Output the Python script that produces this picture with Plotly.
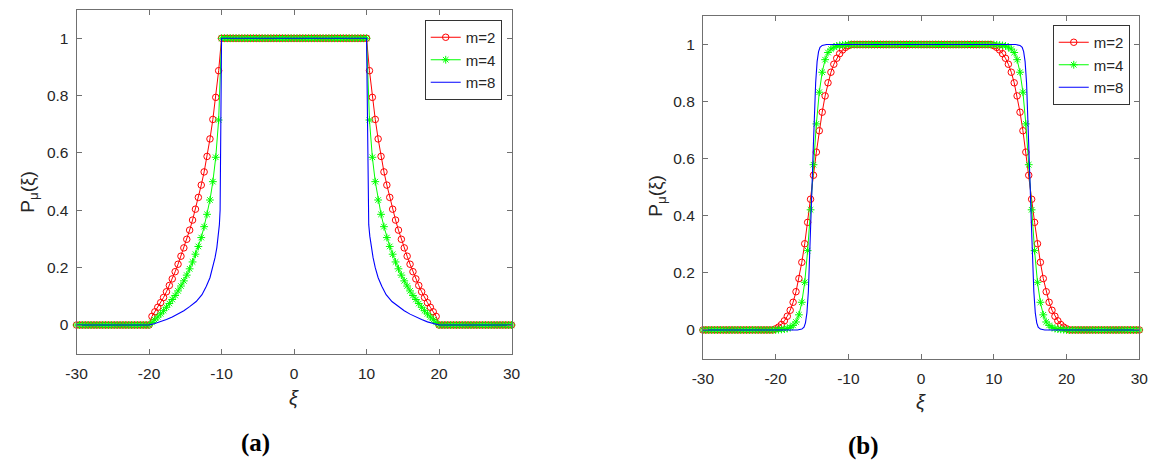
import plotly.graph_objects as go

# ---------------- data ----------------
# common sample grid of xi (spacing 0.4)
XI = [
    -30.0, -29.6, -29.2, -28.8, -28.4, -28.0, -27.6, -27.2, -26.8, -26.4, -26.0, -25.6, -25.2,
    -24.8, -24.4, -24.0, -23.6, -23.2, -22.8, -22.4, -22.0, -21.6, -21.2, -20.8, -20.4, -20.0,
    -19.6, -19.2, -18.8, -18.4, -18.0, -17.6, -17.2, -16.8, -16.4, -16.0, -15.6, -15.2,
    -14.8, -14.4, -14.0, -13.6, -13.2, -12.8, -12.4, -12.0, -11.6, -11.2, -10.8, -10.4,
    -10.0, -9.6, -9.2, -8.8, -8.4, -8.0, -7.6, -7.2, -6.8, -6.4, -6.0, -5.6, -5.2, -4.8, -4.4,
    -4.0, -3.6, -3.2, -2.8, -2.4, -2.0, -1.6, -1.2, -0.8, -0.4, 0.0, 0.4, 0.8, 1.2, 1.6, 2.0,
    2.4, 2.8, 3.2, 3.6, 4.0, 4.4, 4.8, 5.2, 5.6, 6.0, 6.4, 6.8, 7.2, 7.6, 8.0, 8.4, 8.8, 9.2,
    9.6, 10.0,
    10.4, 10.8, 11.2, 11.6, 12.0, 12.4, 12.8, 13.2, 13.6, 14.0, 14.4, 14.8,
    15.2, 15.6, 16.0, 16.4, 16.8, 17.2, 17.6, 18.0, 18.4, 18.8, 19.2, 19.6,
    20.0, 20.4, 20.8, 21.2, 21.6, 22.0, 22.4, 22.8, 23.2, 23.6, 24.0, 24.4, 24.8,
    25.2, 25.6, 26.0, 26.4, 26.8, 27.2, 27.6, 28.0, 28.4, 28.8, 29.2, 29.6, 30.0,
]

# panel (a)
A_M2 = [
    0, 0, 0, 0, 0, 0, 0, 0, 0, 0, 0, 0, 0, 0, 0, 0, 0, 0, 0, 0, 0, 0, 0, 0, 0, 0,
    0.030, 0.046, 0.062, 0.078, 0.096, 0.116, 0.138, 0.161, 0.186, 0.212, 0.240, 0.269,
    0.299, 0.331, 0.366, 0.404, 0.445, 0.488, 0.534, 0.588, 0.649, 0.717, 0.794, 0.887,
    1, 1, 1, 1, 1, 1, 1, 1, 1, 1, 1, 1, 1, 1, 1, 1, 1, 1, 1, 1, 1, 1, 1, 1, 1,
    1, 1, 1, 1, 1, 1, 1, 1, 1, 1, 1, 1, 1, 1, 1, 1, 1, 1, 1, 1, 1, 1, 1, 1, 1, 1,
    0.887, 0.794, 0.717, 0.649, 0.588, 0.534, 0.488, 0.445, 0.404, 0.366, 0.331, 0.299,
    0.269, 0.240, 0.212, 0.186, 0.161, 0.138, 0.116, 0.096, 0.078, 0.062, 0.046, 0.030,
    0, 0, 0, 0, 0, 0, 0, 0, 0, 0, 0, 0, 0, 0, 0, 0, 0, 0, 0, 0, 0, 0, 0, 0, 0, 0,
]
A_M4 = [
    0, 0, 0, 0, 0, 0, 0, 0, 0, 0, 0, 0, 0, 0, 0, 0, 0, 0, 0, 0, 0, 0, 0, 0, 0, 0,
    0.009, 0.018, 0.028, 0.039, 0.050, 0.062, 0.075, 0.089, 0.103, 0.119, 0.136, 0.154,
    0.174, 0.196, 0.220, 0.247, 0.274, 0.305, 0.343, 0.386, 0.436, 0.500, 0.585, 0.715,
    1, 1, 1, 1, 1, 1, 1, 1, 1, 1, 1, 1, 1, 1, 1, 1, 1, 1, 1, 1, 1, 1, 1, 1, 1,
    1, 1, 1, 1, 1, 1, 1, 1, 1, 1, 1, 1, 1, 1, 1, 1, 1, 1, 1, 1, 1, 1, 1, 1, 1, 1,
    0.715, 0.585, 0.500, 0.436, 0.386, 0.343, 0.305, 0.274, 0.247, 0.220, 0.196, 0.174,
    0.154, 0.136, 0.119, 0.103, 0.089, 0.075, 0.062, 0.050, 0.039, 0.028, 0.018, 0.009,
    0, 0, 0, 0, 0, 0, 0, 0, 0, 0, 0, 0, 0, 0, 0, 0, 0, 0, 0, 0, 0, 0, 0, 0, 0, 0,
]
A_M8_X = [-30, -20, -19.2, -18.4, -17.6, -16.8, -16.0, -15.2, -14.4, -13.5, -12.7, -12.1,
          -11.6, -11.2, -10.9, -10.65, -10.45, -10.3, -10.2, -10.0,
          10.0, 10.2, 10.3, 10.45, 10.65, 10.9, 11.2, 11.6, 12.1, 12.7, 13.5, 14.4,
          15.2, 16.0, 16.8, 17.6, 18.4, 19.2, 20, 30]
A_M8_Y = [0, 0, 0.005, 0.011, 0.019, 0.028, 0.038, 0.050, 0.064, 0.082, 0.106, 0.135,
          0.165, 0.200, 0.235, 0.270, 0.310, 0.350, 0.400, 1.0,
          1.0, 0.400, 0.350, 0.310, 0.270, 0.235, 0.200, 0.165, 0.135, 0.106, 0.082, 0.064,
          0.050, 0.038, 0.028, 0.019, 0.011, 0.005, 0, 0]

# panel (b)
B_M2 = [
    0, 0, 0, 0, 0, 0, 0, 0, 0, 0, 0, 0, 0, 0, 0, 0, 0, 0, 0, 0, 0, 0, 0, 0, 0, 0.004,
    0.010, 0.019, 0.032, 0.048, 0.069, 0.097, 0.134, 0.180, 0.237, 0.302, 0.377, 0.458,
    0.542, 0.623, 0.698, 0.763, 0.820, 0.866, 0.903, 0.931, 0.952, 0.968, 0.981, 0.990,
    0.996, 1, 1, 1, 1, 1, 1, 1, 1, 1, 1, 1, 1, 1, 1, 1, 1, 1, 1, 1, 1, 1, 1, 1, 1,
    1, 1, 1, 1, 1, 1, 1, 1, 1, 1, 1, 1, 1, 1, 1, 1, 1, 1, 1, 1, 1, 1, 1, 1, 1, 0.996,
    0.990, 0.981, 0.968, 0.952, 0.931, 0.903, 0.866, 0.820, 0.763, 0.698, 0.623, 0.542,
    0.458, 0.377, 0.302, 0.237, 0.180, 0.134, 0.097, 0.069, 0.048, 0.032, 0.019, 0.010,
    0.004, 0, 0, 0, 0, 0, 0, 0, 0, 0, 0, 0, 0, 0, 0, 0, 0, 0, 0, 0, 0, 0, 0, 0, 0, 0,
]
B_M4 = [
    0, 0, 0, 0, 0, 0, 0, 0, 0, 0, 0, 0, 0, 0, 0, 0, 0, 0, 0, 0, 0, 0, 0, 0, 0, 0,
    0.001, 0.002, 0.003, 0.005, 0.009, 0.016, 0.028, 0.053, 0.097, 0.167, 0.278, 0.421,
    0.579, 0.722, 0.833, 0.903, 0.947, 0.972, 0.984, 0.991, 0.995, 0.997, 0.998, 0.999,
    1, 1, 1, 1, 1, 1, 1, 1, 1, 1, 1, 1, 1, 1, 1, 1, 1, 1, 1, 1, 1, 1, 1, 1, 1,
    1, 1, 1, 1, 1, 1, 1, 1, 1, 1, 1, 1, 1, 1, 1, 1, 1, 1, 1, 1, 1, 1, 1, 1, 1, 1,
    0.999, 0.998, 0.997, 0.995, 0.991, 0.984, 0.972, 0.947, 0.903, 0.833, 0.722, 0.579,
    0.421, 0.278, 0.167, 0.097, 0.053, 0.028, 0.016, 0.009, 0.005, 0.003, 0.002, 0.001,
    0, 0, 0, 0, 0, 0, 0, 0, 0, 0, 0, 0, 0, 0, 0, 0, 0, 0, 0, 0, 0, 0, 0, 0, 0, 0,
]
B_M8_X = [-30, -17.0, -16.4, -16.1, -15.9, -15.7, -15.5, -15.3, -15.15, -15.0, -14.85,
          -14.7, -14.5, -14.3, -14.1, -13.9, -13.6, -13.0,
          13.0, 13.6, 13.9, 14.1, 14.3, 14.5, 14.7, 14.85, 15.0, 15.15, 15.3, 15.5,
          15.7, 15.9, 16.1, 16.4, 17.0, 30]
B_M8_Y = [0, 0, 0.003, 0.010, 0.025, 0.060, 0.135, 0.260, 0.380, 0.500, 0.620,
          0.740, 0.865, 0.940, 0.975, 0.990, 0.997, 1.0,
          1.0, 0.997, 0.990, 0.975, 0.940, 0.865, 0.740, 0.620, 0.500, 0.380, 0.260, 0.135,
          0.060, 0.025, 0.010, 0.003, 0, 0]

SERIES_NAMES = ["m=2", "m=4", "m=8"]
X_TICKS = [-30, -20, -10, 0, 10, 20, 30]
X_TICK_LABELS = ["-30", "-20", "-10", "0", "10", "20", "30"]
Y_TICKS = [0, 0.2, 0.4, 0.6, 0.8, 1]
Y_TICK_LABELS = ["0", "0.2", "0.4", "0.6", "0.8", "1"]

# ---------------- figure ----------------
W, H = 1165, 466
RED, GREEN, BLUE = "#ff0000", "#00ff00", "#0000ff"
AX_COLOR = "#707070"
TXT = "#262626"
SANS = "Liberation Sans, Arial, Helvetica, sans-serif"
SERIF = "Liberation Serif, Times New Roman, serif"

fig = go.Figure()


def add_panel(xa, ya, leg, m2, m4, m8x, m8y):
    fig.add_trace(go.Scatter(
        x=XI, y=m2, name=SERIES_NAMES[0], mode="lines+markers", xaxis=xa, yaxis=ya, legend=leg,
        line=dict(color=RED, width=1),
        marker=dict(symbol="circle-open", size=6.5, color=RED, line=dict(color=RED, width=1)),
        cliponaxis=False))
    fig.add_trace(go.Scatter(
        x=XI, y=m4, name=SERIES_NAMES[1], mode="lines+markers", xaxis=xa, yaxis=ya, legend=leg,
        line=dict(color=GREEN, width=1),
        marker=dict(symbol="asterisk-open", size=6.5, color=GREEN, line=dict(color=GREEN, width=1)),
        cliponaxis=False))
    fig.add_trace(go.Scatter(
        x=m8x, y=m8y, name=SERIES_NAMES[2], mode="lines", xaxis=xa, yaxis=ya, legend=leg,
        line=dict(color=BLUE, width=1.1), cliponaxis=False))


add_panel("x", "y", "legend", A_M2, A_M4, A_M8_X, A_M8_Y)
add_panel("x2", "y2", "legend2", B_M2, B_M4, B_M8_X, B_M8_Y)

common = dict(showline=True, linecolor=AX_COLOR, linewidth=1, mirror="ticks", ticks="inside",
              ticklen=5, tickcolor=AX_COLOR, tickwidth=1, showgrid=False, zeroline=False,
              tickfont=dict(family=SANS, size=15.5, color=TXT))
xcommon = dict(common, range=[-30, 30], tickmode="array", tickvals=X_TICKS,
               ticktext=X_TICK_LABELS, ticklabelstandoff=6)
ycommon = dict(common, range=[-0.1, 1.1], tickmode="array", tickvals=Y_TICKS,
               ticktext=Y_TICK_LABELS, ticklabelstandoff=4)

legcommon = dict(bgcolor="white", bordercolor="#333333", borderwidth=1,
                 font=dict(family=SANS, size=15, color=TXT), xanchor="right", yanchor="top",
                 itemwidth=30)

fig.update_layout(
    width=W, height=H, margin=dict(l=0, r=0, t=0, b=0),
    paper_bgcolor="white", plot_bgcolor="white", showlegend=True,
    xaxis=dict(xcommon, domain=[66.7 / W, 509.3 / W], anchor="y"),
    yaxis=dict(ycommon, domain=[1 - 353.7 / H, 1 - 9.6 / H], anchor="x"),
    xaxis2=dict(xcommon, domain=[704 / W, 1148 / W], anchor="y2"),
    yaxis2=dict(ycommon, domain=[1 - 358.5 / H, 1 - 16 / H], anchor="x2"),
    legend=dict(legcommon, x=499.3 / W, y=1 - 20 / H),
    legend2=dict(legcommon, x=1138.3 / W, y=1 - 25 / H),
)

ann_font = dict(family=SANS, size=19, color=TXT)
xi_font = dict(family=SANS, size=20, color=TXT, style="italic")
cap_font = dict(family=SERIF, size=25, color="black", weight="bold")
annotations = [
    dict(text="P<sub>μ</sub>(ξ)", x=18 / W, y=1 - 192 / H, textangle=-90, font=ann_font),
    dict(text="P<sub>μ</sub>(ξ)", x=657 / W, y=1 - 196 / H, textangle=-90, font=ann_font),
    dict(text="ξ", x=288 / W, y=1 - 398 / H, font=xi_font),
    dict(text="ξ", x=926 / W, y=1 - 402 / H, font=xi_font),
    dict(text="(a)", x=249 / W, y=1 - 443 / H, font=cap_font),
    dict(text="(b)", x=867 / W, y=1 - 446 / H, font=cap_font),
]
for a in annotations:
    a.update(xref="paper", yref="paper", showarrow=False, xanchor="center", yanchor="middle")
fig.update_layout(annotations=annotations)

fig.write_html("out.html", config={"displayModeBar": False},
               post_script="document.body.style.margin='0';")
